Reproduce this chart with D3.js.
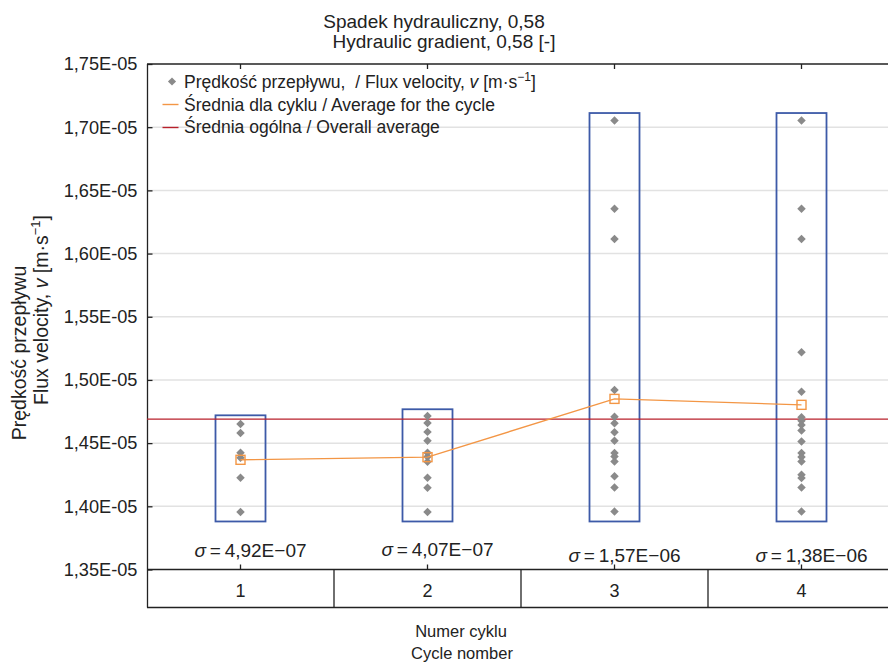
<!DOCTYPE html>
<html lang="en">
<head>
<meta charset="UTF-8">
<title>Flux velocity per cycle</title>
<script src="https://d3js.org/d3.v7.min.js"></script>
<style>
  body { margin: 0; background: #fff; }
  svg { font-family: "Liberation Sans", Arial, sans-serif; }
  text { white-space: pre; }
</style>
</head>
<body>
<div id="chart"></div>
<script>
// cycles and measured flux velocities [m/s]
var cycles = ["1", "2", "3", "4"];
var velocities = [
  [1.4652e-5, 1.4581e-5, 1.4423e-5, 1.4384e-5, 1.4226e-5, 1.3955e-5],
  [1.4715e-5, 1.4660e-5, 1.4589e-5, 1.4518e-5, 1.4423e-5, 1.4392e-5, 1.4352e-5, 1.4226e-5, 1.4146e-5, 1.3955e-5],
  [1.7053e-5, 1.6355e-5, 1.6115e-5, 1.4920e-5, 1.4709e-5, 1.4657e-5, 1.4586e-5, 1.4518e-5, 1.4421e-5, 1.4394e-5, 1.4355e-5, 1.4237e-5, 1.4149e-5, 1.3958e-5],
  [1.7053e-5, 1.6355e-5, 1.6115e-5, 1.5219e-5, 1.4906e-5, 1.4705e-5, 1.4678e-5, 1.4644e-5, 1.4599e-5, 1.4512e-5, 1.4421e-5, 1.4390e-5, 1.4355e-5, 1.4250e-5, 1.4224e-5, 1.4149e-5, 1.3958e-5]
];
var cycleMeans = [1.4368e-5, 1.4389e-5, 1.4850e-5, 1.4803e-5];
var overallMean = 1.4690e-5;
var boxLow = [1.3880e-5, 1.3880e-5, 1.3880e-5, 1.3880e-5];
var boxHigh = [1.4720e-5, 1.4768e-5, 1.7112e-5, 1.7112e-5];
var sigmaLabels = ["4,92E\u221207", "4,07E\u221207", "1,57E\u221206", "1,38E\u221206"];
var yTicks = [1.35e-5, 1.40e-5, 1.45e-5, 1.50e-5, 1.55e-5, 1.60e-5, 1.65e-5, 1.70e-5, 1.75e-5];

var width = 888, height = 665;
var ink = "#222";
var svg = d3.select("#chart").append("svg")
  .attr("width", width).attr("height", height);

var x = d3.scaleBand().domain(cycles).range([147, 895]).padding(0);
var y = d3.scaleLinear().domain([1.35e-5, 1.75e-5]).range([569.5, 64]);
var tableBottom = 607.5;

function fmt(v) {
  return (v * 1e5).toFixed(2).replace(".", ",") + "E-05";
}
function cx(i) { return x(cycles[i]) + x.bandwidth() / 2; }

// gridlines
svg.append("g").selectAll("line")
  .data(yTicks.slice(1, -1))
  .enter().append("line")
  .attr("x1", 147).attr("x2", width)
  .attr("y1", function(d) { return y(d); })
  .attr("y2", function(d) { return y(d); })
  .attr("stroke", "#e2e2e2").attr("stroke-width", 1.5);

// y axis, ticks point inward
var yAxis = svg.append("g")
  .attr("transform", "translate(147.5,0)")
  .call(d3.axisLeft(y).tickValues(yTicks).tickFormat(fmt).tickSize(-5).tickPadding(10));
yAxis.select(".domain").remove();
yAxis.selectAll("line").attr("stroke", ink).attr("stroke-width", 1.3);
yAxis.selectAll("text").attr("font-size", 18.2).attr("fill", ink)
  .attr("font-family", "Liberation Sans, Arial, sans-serif");

// frame lines
svg.append("line").attr("x1", 147.5).attr("x2", 147.5).attr("y1", y(1.75e-5)).attr("y2", tableBottom)
  .attr("stroke", ink).attr("stroke-width", 1.3);
[y(1.75e-5), y(1.35e-5), tableBottom].forEach(function(yy) {
  svg.append("line").attr("x1", 147).attr("x2", width).attr("y1", yy).attr("y2", yy)
    .attr("stroke", ink).attr("stroke-width", 1.3);
});

// table dividers and category labels
svg.append("g").selectAll("line")
  .data(cycles.slice(1))
  .enter().append("line")
  .attr("x1", function(d) { return x(d); }).attr("x2", function(d) { return x(d); })
  .attr("y1", y(1.35e-5)).attr("y2", tableBottom)
  .attr("stroke", ink).attr("stroke-width", 1.3);
svg.append("g").selectAll("text")
  .data(cycles)
  .enter().append("text")
  .attr("x", function(d, i) { return cx(i); })
  .attr("y", 596.5)
  .attr("text-anchor", "middle").attr("font-size", 18).attr("fill", ink)
  .text(function(d) { return d; });

// category ticks on bottom and top
svg.append("g").selectAll("line")
  .data(cycles)
  .enter().append("line")
  .attr("x1", function(d, i) { return cx(i); }).attr("x2", function(d, i) { return cx(i); })
  .attr("y1", y(1.35e-5)).attr("y2", y(1.35e-5) - 5)
  .attr("stroke", ink).attr("stroke-width", 1.3);
svg.append("g").selectAll("line")
  .data(cycles)
  .enter().append("line")
  .attr("x1", function(d, i) { return cx(i); }).attr("x2", function(d, i) { return cx(i); })
  .attr("y1", y(1.75e-5)).attr("y2", y(1.75e-5) + 5)
  .attr("stroke", ink).attr("stroke-width", 1.3);

// range boxes
svg.append("g").selectAll("rect")
  .data(cycles)
  .enter().append("rect")
  .attr("x", function(d, i) { return cx(i) - 25; })
  .attr("width", 50)
  .attr("y", function(d, i) { return y(boxHigh[i]); })
  .attr("height", function(d, i) { return y(boxLow[i]) - y(boxHigh[i]); })
  .attr("fill", "none").attr("stroke", "#3d5aa8").attr("stroke-width", 1.8);

// overall average
svg.append("line")
  .attr("x1", 147).attr("x2", width)
  .attr("y1", y(overallMean)).attr("y2", y(overallMean))
  .attr("stroke", "#b8202b").attr("stroke-width", 1.4);

// points
var pts = [];
velocities.forEach(function(arr, i) {
  arr.forEach(function(v) { pts.push({ i: i, v: v }); });
});
svg.append("g").selectAll("path")
  .data(pts)
  .enter().append("path")
  .attr("d", d3.symbol().type(d3.symbolDiamond2).size(46))
  .attr("transform", function(d) { return "translate(" + cx(d.i) + "," + y(d.v) + ")"; })
  .attr("fill", "#8a8a8a");

// cycle average line
var line = d3.line()
  .x(function(d, i) { return cx(i); })
  .y(function(d) { return y(d); });
svg.append("path")
  .datum(cycleMeans)
  .attr("d", line)
  .attr("fill", "none").attr("stroke", "#f39645").attr("stroke-width", 1.4);
svg.append("g").selectAll("rect")
  .data(cycleMeans)
  .enter().append("rect")
  .attr("x", function(d, i) { return cx(i) - 4.5; })
  .attr("y", function(d) { return y(d) - 4.5; })
  .attr("width", 9).attr("height", 9)
  .attr("fill", "none").attr("stroke", "#f39645").attr("stroke-width", 1.4);

// sigma labels (sit a little right of the category centre)
var sigY = [556.5, 555.5, 562, 562];
var sig = svg.append("g").selectAll("text")
  .data(sigmaLabels)
  .enter().append("text")
  .attr("x", function(d, i) { return cx(i) + 10; })
  .attr("y", function(d, i) { return sigY[i]; })
  .attr("text-anchor", "middle").attr("font-size", 19).attr("fill", ink);
sig.append("tspan").attr("font-style", "italic").text("\u03c3");
sig.append("tspan").text(function(d) { return "\u2009=\u2009" + d; });

// legend
var lg = svg.append("g");
lg.append("path")
  .attr("d", d3.symbol().type(d3.symbolDiamond2).size(42))
  .attr("transform", "translate(172,81.5)")
  .attr("fill", "#8a8a8a");
var t1 = lg.append("text").attr("x", 184).attr("y", 87.5).attr("font-size", 17.5).attr("fill", ink);
t1.append("tspan").text("Prędkość przepływu,  / Flux velocity, ");
t1.append("tspan").attr("font-style", "italic").text("v");
t1.append("tspan").text(" [m\u00b7s");
t1.append("tspan").attr("font-size", 12).attr("dy", -7).text("\u22121");
t1.append("tspan").attr("dy", 7).text("]");
lg.append("line").attr("x1", 162.5).attr("x2", 178.5).attr("y1", 104.5).attr("y2", 104.5)
  .attr("stroke", "#f39645").attr("stroke-width", 1.4);
lg.append("text").attr("x", 184).attr("y", 110.5).attr("font-size", 17.5).attr("fill", ink)
  .text("Średnia dla cyklu / Average for the cycle");
lg.append("line").attr("x1", 162.5).attr("x2", 178.5).attr("y1", 127.5).attr("y2", 127.5)
  .attr("stroke", "#b8202b").attr("stroke-width", 1.4);
lg.append("text").attr("x", 184).attr("y", 133).attr("font-size", 17.5).attr("fill", ink)
  .text("Średnia ogólna / Overall average");

// title
svg.append("text").attr("x", 434).attr("y", 27.5).attr("text-anchor", "middle")
  .attr("font-size", 19).attr("fill", ink).text("Spadek hydrauliczny, 0,58");
svg.append("text").attr("x", 444).attr("y", 48).attr("text-anchor", "middle")
  .attr("font-size", 19).attr("fill", ink).text("Hydraulic gradient, 0,58 [-]");

// y title
svg.append("text").attr("transform", "translate(26,353) rotate(-90)")
  .attr("text-anchor", "middle").attr("font-size", 19.5).attr("fill", ink)
  .text("Prędkość przepływu");
var yt = svg.append("text").attr("transform", "translate(47.5,310) rotate(-90)")
  .attr("text-anchor", "middle").attr("font-size", 19.5).attr("fill", ink);
yt.append("tspan").text("Flux velocity, ");
yt.append("tspan").attr("font-style", "italic").text("v");
yt.append("tspan").text(" [m\u00b7s");
yt.append("tspan").attr("font-size", 13).attr("dy", -8).text("\u22121");
yt.append("tspan").attr("dy", 8).text("]");

// x title
svg.append("text").attr("x", 461).attr("y", 637).attr("text-anchor", "middle")
  .attr("font-size", 16.5).attr("fill", ink).text("Numer cyklu");
svg.append("text").attr("x", 462).attr("y", 659).attr("text-anchor", "middle")
  .attr("font-size", 16.5).attr("fill", ink).text("Cycle nomber");
</script>
</body>
</html>
